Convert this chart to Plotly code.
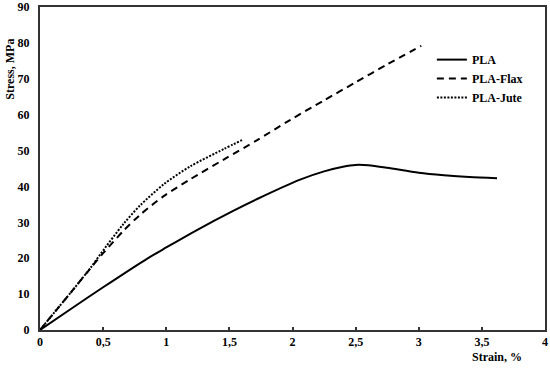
import plotly.graph_objects as go

# ---- data ----
pla_strain = [0, 0.25, 0.5, 0.85, 1.0, 1.25, 1.53, 1.72, 2.06, 2.25, 2.4, 2.5, 2.6, 2.75, 3.0, 3.2, 3.4, 3.62]
pla_stress = [0, 6.0, 11.9, 19.9, 23.0, 28.0, 33.2, 36.5, 41.9, 44.2, 45.5, 46.0, 45.9, 45.2, 43.8, 43.1, 42.6, 42.3]

flax_strain = [0, 0.1, 0.25, 0.4, 0.5, 0.66, 0.79, 0.98, 1.19, 1.455, 1.72, 1.98, 2.25, 2.5, 2.75, 3.02]
flax_stress = [0, 4.3, 10.7, 17.2, 21.4, 27.6, 32.0, 37.3, 42.0, 47.5, 52.9, 58.5, 64.0, 69.0, 74.0, 79.2]

jute_strain = [0, 0.1, 0.25, 0.4, 0.48, 0.66, 0.79, 0.98, 1.19, 1.455, 1.6]
jute_stress = [0, 4.3, 10.7, 17.3, 21.2, 29.5, 34.6, 40.6, 45.6, 50.4, 52.9]

series_names = ["PLA", "PLA-Flax", "PLA-Jute"]
x_ticks = [0, 0.5, 1, 1.5, 2, 2.5, 3, 3.5, 4]
y_ticks = [0, 10, 20, 30, 40, 50, 60, 70, 80, 90]

FONT = "Liberation Serif"
BOLD = dict(family=FONT, size=12, color="black", weight="bold")

fig = go.Figure()
fig.add_trace(go.Scatter(x=pla_strain, y=pla_stress, mode="lines", name=series_names[0],
                         line=dict(color="black", width=2, shape="spline", smoothing=0.8)))
fig.add_trace(go.Scatter(x=flax_strain, y=flax_stress, mode="lines", name=series_names[1],
                         line=dict(color="black", width=2, dash="7px,5px", shape="spline", smoothing=0.8)))
fig.add_trace(go.Scatter(x=jute_strain, y=jute_stress, mode="lines", name=series_names[2],
                         line=dict(color="black", width=2, dash="2px,1.5px", shape="spline", smoothing=0.8)))

fig.update_layout(
    width=550, height=374,
    margin=dict(l=40, r=5, t=7, b=44, autoexpand=False),
    paper_bgcolor="white", plot_bgcolor="white",
    separators=", ",
    font=BOLD,
    showlegend=True,
    legend=dict(x=0.776, y=0.882, xanchor="left", yanchor="top",
                bgcolor="rgba(0,0,0,0)", itemwidth=30,
                font=BOLD, tracegroupgap=0),
)
fig.update_xaxes(range=[0, 4], tickvals=x_ticks, ticks="inside", ticklen=3, tickwidth=1.5,
                 tickcolor="#333", showline=True, linewidth=2, linecolor="#333", mirror=True,
                 showgrid=False, zeroline=False, automargin=False, tickfont=BOLD)
fig.update_yaxes(range=[0, 90], tickvals=y_ticks, ticks="", showline=True, linewidth=2,
                 linecolor="#333", mirror=True, showgrid=False, zeroline=False,
                 automargin=False, ticklabelstandoff=6, tickfont=BOLD)

fig.add_annotation(text="Stress, MPa", xref="paper", yref="paper", x=-0.06, y=0.808,
                   textangle=-90, showarrow=False, xanchor="center", yanchor="middle",
                   font=BOLD)
fig.add_annotation(text="Strain, %", xref="paper", yref="paper", x=0.905, y=-0.084,
                   showarrow=False, xanchor="center", yanchor="middle",
                   font=BOLD)

fig.write_html("out.html", config={"displayModeBar": False},
               post_script="document.body.style.margin='0';")
